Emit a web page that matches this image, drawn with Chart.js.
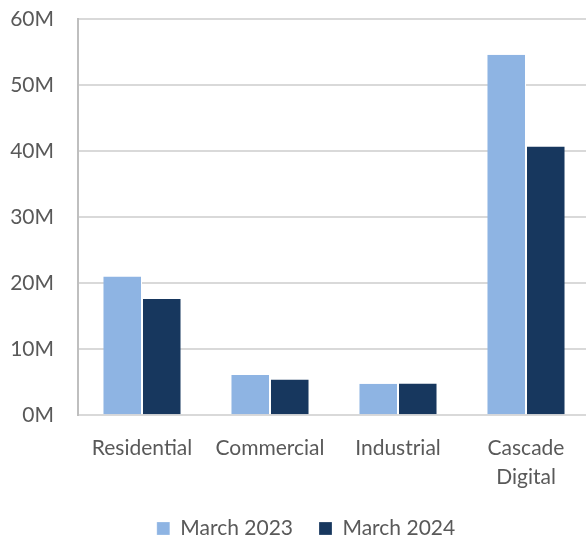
<!DOCTYPE html>
<html>
<head>
<meta charset="utf-8">
<script src="https://cdn.jsdelivr.net/npm/chart.js@4.4.0/dist/chart.umd.min.js"></script>
<style>
  html, body { margin: 0; padding: 0; background: #fff; overflow: hidden; }
  #wrap { width: 590px; height: 538px; }
</style>
</head>
<body>
<div id="wrap"><canvas id="segChart"></canvas></div>
<script>
// Segment totals, in millions
const segments = [['Residential'], ['Commercial'], ['Industrial'], ['Cascade', 'Digital']];
const march2023 = [21.0, 6.1, 4.75, 54.6];
const march2024 = [17.6, 5.4, 4.8, 40.7];
const yTicks = [0, 10, 20, 30, 40, 50, 60];

const textColor = '#595959';
const baseFont = { family: "Lato, 'Open Sans', sans-serif", size: 21, lineHeight: 1.4 };

// nudge the legend row a bit to the right of the canvas centre
const legendShift = {
  id: 'legendShift',
  afterLayout(chart) {
    const lg = chart.legend;
    if (lg) { lg.left += 11; lg.right += 11; }
  }
};

const ctx = document.getElementById('segChart').getContext('2d');
new Chart(ctx, {
  type: 'bar',
  data: {
    labels: segments,
    datasets: [
      {
        label: 'March 2023',
        data: march2023,
        backgroundColor: '#8eb4e3',
        borderColor: '#ffffff',
        borderWidth: { left: 0, right: 1, top: 0, bottom: 0 },
        borderSkipped: false
      },
      {
        label: 'March 2024',
        data: march2024,
        backgroundColor: '#17375e',
        borderColor: '#ffffff',
        borderWidth: { left: 1, right: 0, top: 0, bottom: 0 },
        borderSkipped: false
      }
    ]
  },
  plugins: [legendShift],
  options: {
    responsive: true,
    maintainAspectRatio: false,
    animation: false,
    layout: { padding: { top: 0, left: 0, right: 0, bottom: -11 } },
    datasets: {
      bar: { categoryPercentage: 0.605, barPercentage: 1.0 }
    },
    plugins: {
      legend: {
        position: 'bottom',
        labels: {
          boxWidth: 13,
          boxHeight: 13,
          padding: 26,
          color: textColor,
          font: baseFont
        }
      },
      tooltip: { enabled: false }
    },
    scales: {
      x: {
        grid: { display: false },
        border: { display: false },
        ticks: {
          color: textColor,
          font: baseFont,
          padding: 10,
          maxRotation: 0
        },
        afterFit: scale => { scale.height -= 10; }
      },
      y: {
        min: 0,
        max: 60,
        afterBuildTicks: axis => {
          axis.ticks = yTicks.map(v => ({ value: v }));
        },
        afterFit: scale => {
          scale.width = 78;
          scale.paddingTop = 19;
        },
        grid: {
          color: '#d9d9d9',
          lineWidth: 2,
          drawTicks: false
        },
        border: { display: true, color: '#bfbfbf', width: 2 },
        ticks: {
          color: textColor,
          font: baseFont,
          padding: 24,
          callback: v => v + 'M'
        }
      }
    }
  }
});
</script>
</body>
</html>
